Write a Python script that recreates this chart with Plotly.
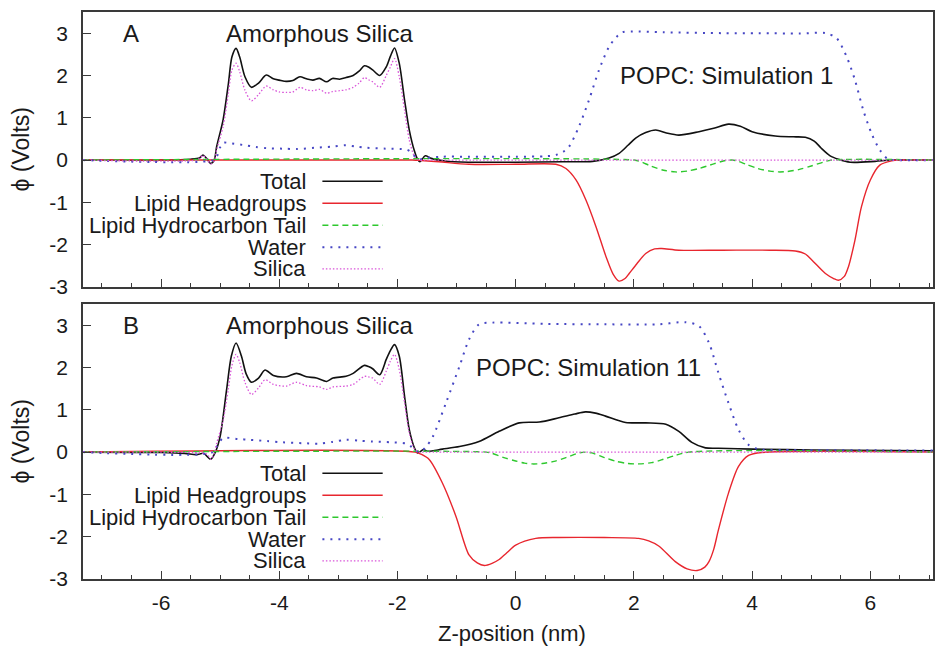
import plotly.graph_objects as go

# ---------------- data ----------------
series_names = ["Total", "Lipid Headgroups", "Lipid Hydrocarbon Tail", "Water", "Silica"]

# Panel A (Simulation 1)
A_total_x = [-7.32, -6.0, -5.5, -5.35, -5.29, -5.23, -5.16, -5.1, -5.06, -4.95, -4.86, -4.8, -4.73, -4.67, -4.58,
             -4.47, -4.35, -4.22, -4.1, -4.0, -3.88, -3.77, -3.65, -3.54, -3.43, -3.32, -3.2, -3.1, -2.98, -2.87,
             -2.75, -2.65, -2.56, -2.49, -2.42, -2.3, -2.19, -2.12, -2.05, -1.97, -1.88, -1.8, -1.71, -1.66, -1.62,
             -1.53, -1.43, -1.2, -0.8, 0.0, 0.8, 1.3, 1.58, 1.75, 1.9, 2.03, 2.2, 2.37, 2.55, 2.76, 3.1, 3.35, 3.6,
             3.8, 4.0, 4.39, 4.7, 4.9, 5.05, 5.17, 5.32, 5.46, 5.66, 6.08, 6.36, 7.06]
A_total_y = [0, 0, 0.02, 0.05, 0.12, 0.04, -0.08, 0.0, 0.31, 0.95, 1.81, 2.44, 2.64, 2.44, 1.97,
             1.72, 1.82, 2.01, 1.92, 1.89, 1.86, 1.88, 1.97, 1.92, 1.89, 1.93, 1.85, 1.93, 1.91, 1.95,
             2.0, 2.1, 2.23, 2.2, 2.13, 2.0, 2.2, 2.45, 2.65, 2.29, 1.42, 0.71, 0.2, 0.02, -0.04,
             0.1, 0.04, -0.02, -0.05, -0.05, -0.04, -0.03, 0.05, 0.16, 0.35, 0.52, 0.65, 0.71, 0.64, 0.59, 0.67, 0.75, 0.85,
             0.8, 0.67, 0.57, 0.55, 0.54, 0.45, 0.28, 0.1, 0.02, -0.05, -0.03, 0.0, 0.0]

A_head_x = [-7.32, -1.75, -1.6, -1.3, -0.79, 0.0, 0.68, 0.85, 1.02, 1.19, 1.36, 1.53, 1.65, 1.75, 1.85, 1.92, 2.05,
            2.2, 2.35, 2.47, 2.76, 3.5, 4.3, 4.73, 4.9, 5.01, 5.24, 5.38, 5.46, 5.56, 5.63, 5.74, 5.85, 6.0, 6.16,
            6.36, 6.5, 7.06]
A_head_y = [0, 0, -0.01, -0.04, -0.1, -0.1, -0.1, -0.2, -0.47, -0.95, -1.58, -2.29, -2.7, -2.86, -2.8, -2.68, -2.45,
            -2.21, -2.1, -2.09, -2.13, -2.13, -2.13, -2.15, -2.22, -2.36, -2.68, -2.8, -2.84, -2.75, -2.52, -1.89, -1.1,
            -0.47, -0.12, -0.02, 0, 0]

A_tail_x = [-7.32, 2.0, 2.1, 2.3, 2.5, 2.7, 2.9, 3.1, 3.35, 3.55, 3.65, 3.72, 3.9, 4.1, 4.3, 4.45, 4.6, 4.8, 5.0,
            5.2, 5.34, 7.06]
A_tail_y = [0, 0, -0.03, -0.15, -0.24, -0.28, -0.26, -0.2, -0.09, -0.01, 0, -0.01, -0.1, -0.2, -0.26, -0.28, -0.27,
            -0.22, -0.14, -0.05, 0, 0]

A_water_x = [-7.32, -5.12, -5.05, -5.0, -4.95, -4.8, -4.58, -4.4, -4.2, -3.95, -3.7, -3.4, -3.1, -2.87, -2.7, -2.52,
             -2.2, -1.85, -1.78, -1.7, -1.62, -1.5, -1.25, -0.8, 0.0, 0.5, 0.68, 0.8, 0.9, 1.07, 1.24, 1.41, 1.58,
             1.7, 1.8, 1.97, 2.5, 3.5, 4.11, 4.8, 5.24, 5.43, 5.6, 5.74, 5.88, 6.02, 6.16, 6.3, 6.45, 7.06]
A_water_y = [0, 0, 0.1, 0.3, 0.41, 0.39, 0.35, 0.31, 0.28, 0.27, 0.26, 0.29, 0.32, 0.35, 0.32, 0.29,
             0.27, 0.25, 0.2, 0.08, 0.02, 0.05, 0.08, 0.08, 0.08, 0.09, 0.12, 0.19, 0.31, 0.79, 1.42, 2.13, 2.68,
             2.9, 3.02, 3.04, 3.02, 3.0, 3.0, 2.99, 3.0, 2.88, 2.44, 1.89, 1.18, 0.63, 0.24, 0.02, 0.0, 0.0]

A_silica_x = [-7.32, -5.4, -5.35, -5.29, -5.23, -5.16, -5.1, -5.06, -4.95, -4.86, -4.8, -4.73, -4.67, -4.58, -4.47,
              -4.35, -4.22, -4.1, -4.0, -3.88, -3.77, -3.65, -3.54, -3.43, -3.32, -3.2, -3.1, -2.98, -2.87, -2.75,
              -2.65, -2.56, -2.49, -2.42, -2.3, -2.19, -2.12, -2.05, -1.97, -1.88, -1.8, -1.71, -1.64, -1.5, 7.06]
A_silica_y = [0, 0, 0.04, 0.11, 0.03, -0.09, -0.02, 0.24, 0.79, 1.58, 2.13, 2.29, 2.09, 1.65, 1.4,
              1.55, 1.75, 1.66, 1.61, 1.6, 1.61, 1.72, 1.66, 1.64, 1.67, 1.58, 1.62, 1.64, 1.66, 1.72,
              1.82, 1.95, 1.9, 1.85, 1.72, 2.0, 2.2, 2.4, 1.97, 1.18, 0.47, 0.08, 0.0, 0.0, 0.0]

# Panel B (Simulation 11)
B_total_x = [-7.32, -6.0, -5.6, -5.4, -5.28, -5.16, -5.08, -5.0, -4.89, -4.81, -4.73, -4.64, -4.56, -4.47, -4.35,
             -4.24, -4.1, -3.88, -3.71, -3.54, -3.37, -3.2, -3.09, -2.87, -2.75, -2.56, -2.49, -2.42, -2.3, -2.19,
             -2.12, -2.05, -1.97, -1.88, -1.8, -1.71, -1.66, -1.56, -1.49, -1.24, -0.95, -0.62, -0.28, 0.06, 0.4,
             0.73, 1.0, 1.18, 1.35, 1.52, 1.86, 2.2, 2.54, 2.76, 2.98, 3.21, 3.43, 4.0, 5.0, 7.06]
B_total_y = [0, -0.01, -0.03, -0.06, -0.03, -0.17, 0.0, 0.37, 1.48, 2.27, 2.58, 2.27, 1.85, 1.65, 1.75,
             1.94, 1.81, 1.78, 1.86, 1.78, 1.75, 1.67, 1.75, 1.79, 1.86, 2.05, 2.02, 1.97, 1.83, 2.19,
             2.4, 2.54, 2.27, 1.32, 0.53, 0.09, -0.02, 0.06, 0.02, 0.07, 0.13, 0.25, 0.49, 0.69, 0.71,
             0.81, 0.9, 0.95, 0.92, 0.85, 0.7, 0.69, 0.66, 0.49, 0.23, 0.1, 0.09, 0.07, 0.05, 0.03]

B_head_x = [-7.32, -1.7, -1.6, -1.46, -1.24, -1.01, -0.79, -0.65, -0.53, -0.4, -0.28, -0.15, 0.0, 0.34, 0.73, 1.5,
            2.08, 2.25, 2.42, 2.7, 2.9, 3.07, 3.2, 3.27, 3.35, 3.43, 3.6, 3.77, 3.94, 4.16, 7.06]
B_head_y = [0, 0, -0.05, -0.18, -0.73, -1.52, -2.43, -2.62, -2.68, -2.63, -2.54, -2.38, -2.2, -2.04, -2.02, -2.02,
            -2.04, -2.1, -2.22, -2.59, -2.76, -2.8, -2.72, -2.59, -2.3, -1.84, -0.97, -0.34, -0.08, -0.01, 0]

B_tail_x = [-7.32, -0.5, -0.42, -0.2, 0.0, 0.15, 0.28, 0.45, 0.65, 0.85, 1.07, 1.18, 1.29, 1.5, 1.7, 1.9, 2.08,
            2.3, 2.5, 2.7, 2.93, 7.06]
B_tail_y = [0, 0, -0.02, -0.13, -0.21, -0.26, -0.28, -0.27, -0.22, -0.13, -0.02, 0, -0.02, -0.13, -0.22, -0.27,
            -0.28, -0.25, -0.17, -0.08, 0, 0]

B_water_x = [-7.32, -5.12, -5.05, -4.95, -4.7, -4.5, -4.2, -3.94, -3.6, -3.32, -3.1, -2.87, -2.65, -2.42, -2.1,
             -1.85, -1.76, -1.71, -1.62, -1.52, -1.4, -1.18, -0.95, -0.79, -0.62, -0.39, 0.5, 1.5, 2.42, 2.87,
             3.1, 3.27, 3.43, 3.6, 3.77, 3.94, 4.11, 4.5, 7.06]
B_water_y = [0, 0, 0.15, 0.33, 0.31, 0.29, 0.26, 0.23, 0.21, 0.2, 0.24, 0.29, 0.27, 0.25, 0.23,
             0.2, 0.12, 0.05, 0.0, 0.12, 0.37, 1.16, 2.03, 2.66, 3.02, 3.06, 3.03, 3.02, 3.02, 3.07,
             2.98, 2.58, 1.87, 1.16, 0.53, 0.17, 0.07, 0.05, 0.04]

B_silica_x = [-7.32, -5.35, -5.22, -5.16, -5.1, -5.06, -4.95, -4.86, -4.8, -4.73, -4.67, -4.58, -4.47, -4.35, -4.24,
              -4.1, -3.88, -3.71, -3.54, -3.32, -3.2, -3.09, -2.87, -2.75, -2.56, -2.49, -2.42, -2.3, -2.19, -2.12,
              -2.05, -1.97, -1.88, -1.8, -1.71, -1.64, -1.5, 7.06]
B_silica_y = [0, -0.02, -0.05, -0.17, -0.03, 0.2, 0.75, 1.5, 2.05, 2.31, 2.12, 1.65, 1.36, 1.52, 1.71,
              1.6, 1.56, 1.65, 1.57, 1.54, 1.48, 1.54, 1.56, 1.6, 1.79, 1.78, 1.75, 1.6, 1.91, 2.15,
              2.31, 1.95, 1.16, 0.45, 0.07, 0.0, 0.0, 0.0]

y_tick_vals = [-3, -2, -1, 0, 1, 2, 3]
y_tick_text = ["-3", "-2", "-1", "0", "1", "2", "3"]
x_tick_vals = [-6, -4, -2, 0, 2, 4, 6]
x_tick_text = ["-6", "-4", "-2", "0", "2", "4", "6"]

panel_labels = ["A", "B"]
silica_label = "Amorphous Silica"
popc_labels = ["POPC: Simulation 1", "POPC: Simulation 11"]
x_title = "Z-position (nm)"
y_title = "\u03d5 (Volts)"

# ---------------- styles ----------------
FONT = "Liberation Sans, Arial, sans-serif"
TXT = "#1a1a1a"
FRAME = "#3a3a3a"
styles = [
    dict(color="#111111", width=1.6, dash="solid"),
    dict(color="#e8262e", width=1.4, dash="solid"),
    dict(color="#2ec82e", width=1.4, dash="6px,4px"),
    dict(color="#4646c4", width=2.0, dash="2px,6px"),
    dict(color="#d955d9", width=1.3, dash="1.5px,2px"),
]

panels = [
    [(A_total_x, A_total_y), (A_head_x, A_head_y), (A_tail_x, A_tail_y), (A_water_x, A_water_y), (A_silica_x, A_silica_y)],
    [(B_total_x, B_total_y), (B_head_x, B_head_y), (B_tail_x, B_tail_y), (B_water_x, B_water_y), (B_silica_x, B_silica_y)],
]

fig = go.Figure()
axis_ids = [("x", "y"), ("x2", "y2")]
for p, series in enumerate(panels):
    xa, ya = axis_ids[p]
    for s, (xs, ys) in enumerate(series):
        fig.add_trace(go.Scatter(
            x=xs, y=ys, mode="lines", name=series_names[s], showlegend=False,
            line=dict(color=styles[s]["color"], width=styles[s]["width"], dash=styles[s]["dash"],
                      shape="spline", smoothing=0.8),
            xaxis=xa, yaxis=ya, hoverinfo="skip"))

XR = [-7.32, 7.06]
YR = [-3.0, 3.5]
common_x = dict(range=XR, showgrid=False, zeroline=False, showline=True, linecolor=FRAME, linewidth=1.6,
                mirror=True, ticks="inside", ticklen=8, tickwidth=1.2, tickcolor=FRAME,
                tickvals=x_tick_vals, ticktext=x_tick_text,
                minor=dict(dtick=0.5, tick0=0, ticks="inside", ticklen=4, tickwidth=1.0, tickcolor=FRAME),
                tickfont=dict(family=FONT, size=21, color=TXT), ticklabelstandoff=4)
common_y = dict(range=YR, showgrid=False, zeroline=False, showline=True, linecolor=FRAME, linewidth=1.6,
                mirror=True, ticks="inside", ticklen=8, tickwidth=1.2, tickcolor=FRAME,
                tickvals=y_tick_vals, ticktext=y_tick_text,
                tickfont=dict(family=FONT, size=21, color=TXT), ticklabelstandoff=9)

fig.update_layout(
    width=937, height=648, margin=dict(l=83, r=2, t=12, b=69),
    paper_bgcolor="white", plot_bgcolor="white", showlegend=False,
    xaxis=dict(common_x, anchor="y", showticklabels=False),
    yaxis=dict(common_y, domain=[0.515, 1.0], anchor="x"),
    xaxis2=dict(common_x, anchor="y2"),
    yaxis2=dict(common_y, domain=[0.0, 0.485], anchor="x2"),
)

annotations = []
shapes = []
legend_rows = [-0.5, -1.02, -1.54, -2.06, -2.57]
for p in range(2):
    xa, ya = axis_ids[p]
    dom = [0.515, 1.0] if p == 0 else [0.0, 0.485]
    annotations.append(dict(x=-6.51, y=3.0, xref=xa, yref=ya, text=panel_labels[p], showarrow=False,
                            font=dict(family=FONT, size=24, color=TXT)))
    annotations.append(dict(x=-3.32, y=3.0, xref=xa, yref=ya, text=silica_label, showarrow=False,
                            font=dict(family=FONT, size=24, color=TXT)))
    annotations.append(dict(x=3.57 if p == 0 else 1.24, y=2.01, xref=xa, yref=ya, text=popc_labels[p],
                            showarrow=False, font=dict(family=FONT, size=24, color=TXT)))
    annotations.append(dict(x=0, y=(dom[0] + dom[1]) / 2, xref="paper", yref="paper", xshift=-62,
                            xanchor="center", yanchor="middle",
                            text=y_title, textangle=-90, showarrow=False,
                            font=dict(family=FONT, size=23, color=TXT)))
    for s, yr in enumerate(legend_rows):
        annotations.append(dict(x=-3.52, y=yr, xref=xa, yref=ya, text=series_names[s], showarrow=False,
                                xanchor="right", yanchor="middle", font=dict(family=FONT, size=22, color=TXT)))
        shapes.append(dict(type="line", x0=-3.27, x1=-2.25, y0=yr, y1=yr, xref=xa, yref=ya,
                           line=dict(color=styles[s]["color"], width=styles[s]["width"], dash=styles[s]["dash"])))

annotations.append(dict(x=0.505, y=0, xref="paper", yref="paper", yshift=-54, text=x_title, showarrow=False,
                        xanchor="center", yanchor="middle", font=dict(family=FONT, size=22, color=TXT)))
fig.update_layout(annotations=annotations, shapes=shapes)

fig.write_html("out.html")
